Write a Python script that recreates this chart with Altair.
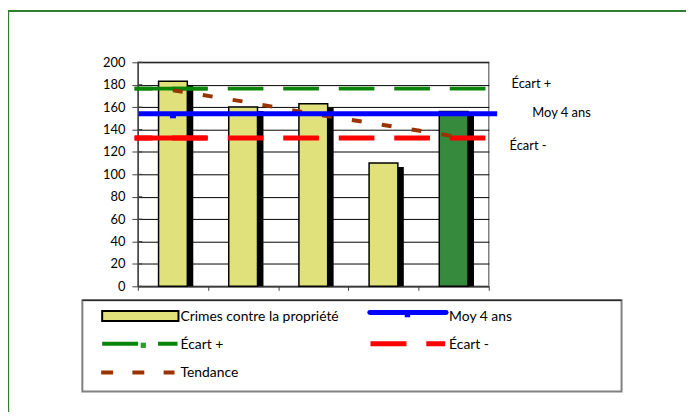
import altair as alt
import pandas as pd

# ---- data ----
categories = ["1", "2", "3", "4", "5"]
crimes = [183, 160, 163, 110, 156]
periode = ["historique", "historique", "historique", "historique", "actuelle"]
tendance = [175, 165, 154, 144, 134]
moy_4_ans = 154
ecart_plus = 176.5
ecart_moins = 132.5
y_ticks = [0, 20, 40, 60, 80, 100, 120, 140, 160, 180, 200]
x_ticks = [0, 1, 2, 3, 4, 5]

FONT = "Lato"
YELLOW = "#E1E17C"
GREEN_BAR = "#358A3D"
GREEN = "#0A850A"
RED = "#FF0000"
BLUE = "#0000FF"
BROWN = "#993300"
GRAY = "#808080"
AXIS = "#404040"

W, H = 354, 226

df = pd.DataFrame({"cat": categories, "idx": list(range(len(categories))),
                   "valeur": crimes, "periode": periode, "tendance": tendance})
one = pd.DataFrame({"k": [0]})
ticks_df = pd.DataFrame({"t": y_ticks})

base = alt.Chart(df).transform_calculate(
    lo="datum.idx + 0.295", hi="datum.idx + 0.705", mid="datum.idx + 0.5"
)

xscale = alt.Scale(domain=[0, 5], nice=False, zero=False)
yscale = alt.Scale(domain=[0, 200], nice=False)

xaxis = alt.Axis(values=x_ticks, labels=False, ticks=True, tickSize=4, tickColor=AXIS,
                 domainColor=AXIS, domainWidth=1.2, grid=False, title=None)
yaxis = alt.Axis(values=y_ticks, tickSize=6, tickColor=AXIS, labelPadding=7,
                 labelFont=FONT, labelFontSize=13, labelColor="black", labelOverlap=False,
                 domainColor=AXIS, domainWidth=1.2, grid=True, gridColor="black",
                 gridWidth=1, title=None)


def XD(v):
    return alt.XDatum(v, scale=xscale, axis=xaxis)


def YD(v):
    return alt.YDatum(v, scale=yscale, axis=yaxis)


# inner half of the crossing y-axis ticks
inner_ticks = alt.Chart(ticks_df).mark_rule(color=AXIS, strokeWidth=1, clip=False).encode(
    x=alt.value(0), x2=alt.value(4.5),
    y=alt.Y("t:Q", scale=yscale, axis=yaxis),
)

shadow = base.mark_rect(color="black", xOffset=6, x2Offset=6, yOffset=4, clip=False).encode(
    x=alt.X("lo:Q", scale=xscale, axis=xaxis),
    x2="hi:Q",
    y=alt.Y("valeur:Q", scale=yscale, axis=yaxis),
    y2=alt.datum(0),
)

bars = base.mark_rect(stroke="black", strokeWidth=1.5, clip=False).encode(
    x=alt.X("lo:Q", scale=xscale, axis=xaxis),
    x2="hi:Q",
    y=alt.Y("valeur:Q", scale=yscale, axis=yaxis),
    y2=alt.datum(0),
    fill=alt.Fill("periode:N", scale=alt.Scale(domain=["historique", "actuelle"],
                                               range=[YELLOW, GREEN_BAR]), legend=None),
)


def hline(value, color, width, dash=None, x0=-0.047, x1=4.97, offset=None):
    kw = dict(color=color, strokeWidth=width, clip=False)
    if dash is not None:
        kw["strokeDash"] = dash
    if offset is not None:
        kw["strokeDashOffset"] = offset
    return alt.Chart(one).mark_rule(**kw).encode(
        x=XD(x0), x2=alt.datum(x1), y=YD(value)
    )


green_line = hline(ecart_plus, GREEN, 4, [36, 20], offset=18)
green_first = hline(ecart_plus, GREEN, 4, x1=0.985)
red_line = hline(ecart_moins, RED, 5, [36, 20], offset=18)
red_first = hline(ecart_moins, RED, 5, x1=0.985)
blue_line = hline(moy_4_ans, BLUE, 5, x0=0.01, x1=5.12)
blue_marker = alt.Chart(one).mark_square(color=BLUE, size=36, opacity=1, yOffset=1.5,
                                         clip=False).encode(
    x=XD(0.5), y=YD(moy_4_ans)
)

trend = base.mark_line(color=BROWN, strokeWidth=4, strokeDash=[10, 20.5], clip=False).encode(
    x=alt.X("mid:Q", scale=xscale, axis=xaxis),
    y=alt.Y("tendance:Q", scale=yscale, axis=yaxis),
)


def side_label(text, value, xpx, dy):
    return alt.Chart(one).mark_text(text=text, font=FONT, fontSize=13, align="left",
                                    baseline="middle", dy=dy, color="black",
                                    clip=False).encode(
        x=alt.value(xpx), y=YD(value)
    )


lab_plus = side_label("Écart +", ecart_plus, 377, -5)
lab_moy = side_label("Moy 4 ans", moy_4_ans, 398, -1)
lab_moins = side_label("Écart -", ecart_moins, 375, 8)

# ---- legend (drawn below the plot) ----


def lrule(x0, x1, y, color, width, dash=None, cap="butt"):
    kw = dict(color=color, strokeWidth=width, strokeCap=cap, clip=False)
    if dash is not None:
        kw["strokeDash"] = dash
    return alt.Chart(one).mark_rule(**kw).encode(
        x=alt.value(x0), x2=alt.value(x1), y=alt.value(y))


def ltext(text, x, y):
    return alt.Chart(one).mark_text(text=text, font=FONT, fontSize=14, align="left",
                                    baseline="middle", color="black", clip=False).encode(
        x=alt.value(x), y=alt.value(y))


legend_box = alt.Chart(one).mark_rect(fill="white", stroke=GRAY, strokeWidth=2,
                                      clip=False).encode(
    x=alt.value(-56), x2=alt.value(488), y=alt.value(240), y2=alt.value(332))
legend_top = lrule(-56, 488, 240, "black", 1)
leg_rect = alt.Chart(one).mark_rect(fill=YELLOW, stroke="black", strokeWidth=2,
                                    clip=False).encode(
    x=alt.value(-36), x2=alt.value(41), y=alt.value(251), y2=alt.value(261))
leg_blue = lrule(234, 311, 252.5, BLUE, 5, cap="round")
leg_blue_m = alt.Chart(one).mark_square(color=BLUE, size=30, opacity=1, clip=False).encode(
    x=alt.value(272), y=alt.value(254.5))
leg_green = lrule(-36, 40, 284, GREEN, 4, [36.3, 20])
leg_green_m = alt.Chart(one).mark_square(color="#2F9A2F", size=28, opacity=1,
                                         clip=False).encode(
    x=alt.value(5.5), y=alt.value(285.5))
leg_red = lrule(234.7, 310, 284, RED, 5, [36.3, 20])
leg_brown = lrule(-37, 37, 313, BROWN, 4, [12, 19.5])

t1 = ltext("Crimes contre la propriété", 43, 257)
t2 = ltext("Moy 4 ans", 314, 257)
t3 = ltext("Écart +", 43, 285)
t4 = ltext("Écart -", 314, 285)
t5 = ltext("Tendance", 43, 313)

# ---- outer frame ----
frame = alt.Chart(one).mark_rect(fill=None, stroke="#2F7F33", strokeWidth=2,
                                 clip=False).encode(
    x=alt.value(-130.8), x2=alt.value(700), y=alt.value(-51.7), y2=alt.value(600))

chart = alt.layer(
    frame,
    inner_ticks,
    shadow, bars,
    green_first, green_line, red_first, red_line,
    trend,
    blue_line, blue_marker,
    lab_plus, lab_moy, lab_moins,
    legend_box, legend_top, leg_rect, leg_blue, leg_blue_m, leg_green, leg_green_m,
    leg_red, leg_brown, t1, t2, t3, t4, t5,
).properties(
    width=W, height=H,
    autosize=alt.AutoSizeParams(type="none"),
    padding={"left": 131, "top": 53, "right": 199, "bottom": 125},
).configure_view(stroke=GRAY, strokeWidth=1.5)

chart.save("out.html", embed_options={"renderer": "svg", "actions": False})
